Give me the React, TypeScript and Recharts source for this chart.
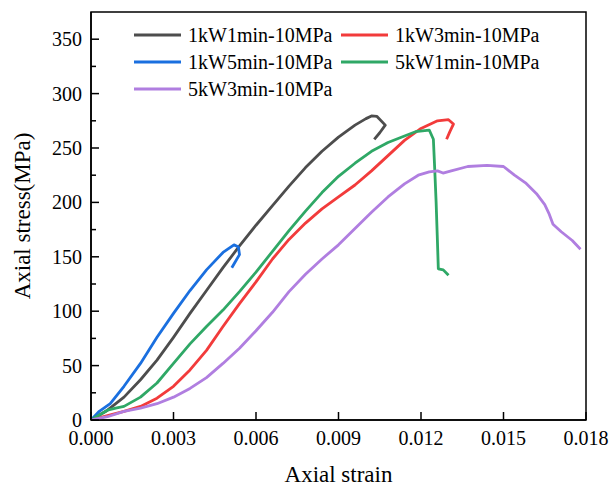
import React from "react"
import { LineChart, Line, XAxis, YAxis, ReferenceArea, Legend } from "recharts"

// 1kW1min-10MPa
const strainA = [0, 0.0006, 0.0012, 0.0018, 0.0024, 0.003, 0.0036, 0.0042, 0.0048, 0.0054, 0.006, 0.0066, 0.0072, 0.0078, 0.0084, 0.009, 0.0096, 0.01, 0.0102, 0.0104, 0.0107, 0.0105, 0.0103]
const stressA = [0, 9, 21, 37, 55, 76, 98, 119, 140, 160, 179, 197, 215, 232, 247, 260, 271, 277, 279.5, 279, 271, 264, 258]

// 1kW3min-10MPa
const strainB = [0, 0.0006, 0.0012, 0.0018, 0.0024, 0.003, 0.0036, 0.0042, 0.0048, 0.0054, 0.006, 0.0066, 0.0072, 0.0078, 0.0084, 0.009, 0.0096, 0.0102, 0.0108, 0.0114, 0.012, 0.0126, 0.013, 0.01318, 0.01305, 0.01293]
const stressB = [0, 4, 8, 12.5, 20, 31, 46, 64, 86, 107, 127, 148, 166, 181, 194, 205, 216, 229, 243, 257, 268, 275, 276, 272, 265, 258]

// 1kW5min-10MPa
const strainC = [0, 0.0003, 0.0007, 0.0012, 0.0018, 0.0024, 0.003, 0.0036, 0.0042, 0.0048, 0.0052, 0.00536, 0.0054, 0.00512]
const stressC = [0, 8, 15, 31, 52, 76, 98, 119, 138, 154, 161, 159, 152, 140]

// 5kW1min-10MPa
const strainD = [0, 0.0006, 0.0009, 0.0012, 0.0018, 0.0024, 0.003, 0.0036, 0.0042, 0.0048, 0.0054, 0.006, 0.0066, 0.0072, 0.0078, 0.0084, 0.009, 0.0096, 0.0102, 0.0108, 0.0114, 0.0118, 0.0123, 0.01245, 0.0125, 0.01255, 0.01259, 0.01263, 0.01281, 0.013]
const stressD = [0, 9, 11, 12.5, 21, 34, 52, 70, 86, 101, 118, 136, 155, 174, 192, 209, 224, 236, 247, 255, 261, 265, 266.5, 258, 230, 200, 170, 139, 138, 133]

// 5kW3min-10MPa
const strainE = [0, 0.0006, 0.0012, 0.0018, 0.0024, 0.003, 0.0036, 0.0042, 0.0048, 0.0054, 0.006, 0.0066, 0.0072, 0.0078, 0.0084, 0.009, 0.0096, 0.0102, 0.0108, 0.0114, 0.0119, 0.0123, 0.0126, 0.0128, 0.0131, 0.0137, 0.0144, 0.015, 0.0154, 0.0158, 0.0162, 0.0165, 0.01665, 0.0168, 0.0171, 0.0175, 0.0178]
const stressE = [0, 3, 8, 11, 15, 21, 29, 39, 52, 66, 82, 99, 118, 134, 148, 161, 176, 191, 205, 217, 225, 228, 229, 227, 229, 233, 234, 233, 225, 218, 208, 198, 190, 180, 173, 165, 157]

const xTicks = [0, 0.0015, 0.003, 0.0045, 0.006, 0.0075, 0.009, 0.0105, 0.012, 0.0135, 0.015, 0.0165, 0.018]
const yTicks = [0, 25, 50, 75, 100, 125, 150, 175, 200, 225, 250, 275, 300, 325, 350]

const FONT = "'Liberation Serif', 'Times New Roman', serif"

const toPoints = (xs: number[], ys: number[]) => xs.map((x, i) => ({ x, y: ys[i] }))

const series = [
  { name: "1kW1min-10MPa", color: "#4d4d4d", data: toPoints(strainA, stressA) },
  { name: "1kW3min-10MPa", color: "#f23b3b", data: toPoints(strainB, stressB) },
  { name: "1kW5min-10MPa", color: "#1a6fdf", data: toPoints(strainC, stressC) },
  { name: "5kW1min-10MPa", color: "#2fa866", data: toPoints(strainD, stressD) },
  { name: "5kW3min-10MPa", color: "#b07ee0", data: toPoints(strainE, stressE) },
]

const XTick = (props: any) => {
  const { x, y, payload } = props
  const major = Math.round(payload.value / 0.0015) % 2 === 0
  return (
    <g>
      <line x1={x} x2={x} y1={y} y2={y - (major ? 8 : 5)} stroke="#000" strokeWidth={1.5} />
      {major && (
        <text x={x} y={y + 25} textAnchor="middle" fontFamily={FONT} fontSize={20} fill="#000">
          {payload.value.toFixed(3)}
        </text>
      )}
    </g>
  )
}

const YTick = (props: any) => {
  const { x, y, payload } = props
  const major = Math.round(payload.value / 25) % 2 === 0
  return (
    <g>
      <line x1={x} x2={x + (major ? 8 : 5)} y1={y} y2={y} stroke="#000" strokeWidth={1.5} />
      {major && (
        <text x={x - 9} y={y} dy="0.35em" textAnchor="end" fontFamily={FONT} fontSize={20} fill="#000">
          {payload.value}
        </text>
      )}
    </g>
  )
}

const renderLegend = () => (
  <div style={{ display: "grid", gridTemplateColumns: "207px 207px", fontFamily: FONT, fontSize: 20 }}>
    {series.map((s) => (
      <div key={s.name} style={{ display: "flex", alignItems: "center", height: 26.7 }}>
        <svg width={47} height={6} style={{ marginRight: 7 }}>
          <line x1={0} x2={47} y1={3} y2={3} stroke={s.color} strokeWidth={3} />
        </svg>
        <span style={{ color: "#000", lineHeight: 1 }}>{s.name}</span>
      </div>
    ))}
  </div>
)

export default function App() {
  return (
    <div style={{ position: "absolute", left: 0, top: 0, background: "#fff" }}>
      <LineChart width={610} height={487} margin={{ top: 12, right: 24, bottom: 0, left: 0 }}>
        <XAxis
          type="number"
          dataKey="x"
          domain={[0, 0.018]}
          ticks={xTicks}
          allowDataOverflow
          height={67}
          tickSize={0}
          tickMargin={0}
          tick={<XTick />}
          axisLine={{ stroke: "#000", strokeWidth: 1.5 }}
          label={{ value: "Axial strain", position: "insideBottom", offset: 5, fontFamily: FONT, fontSize: 23, fill: "#000" }}
        />
        <YAxis
          type="number"
          dataKey="y"
          domain={[0, 375]}
          ticks={yTicks}
          allowDataOverflow
          width={91}
          tickSize={0}
          tickMargin={0}
          tick={<YTick />}
          axisLine={{ stroke: "#000", strokeWidth: 1.5 }}
          label={({ viewBox }: any) => (
            <text
              x={22}
              y={viewBox.y + viewBox.height / 2}
              transform={`rotate(-90, 22, ${viewBox.y + viewBox.height / 2})`}
              textAnchor="middle"
              dominantBaseline="central"
              fontFamily={FONT}
              fontSize={23}
              fill="#000"
            >
              Axial stress(MPa)
            </text>
          )}
        />
        <ReferenceArea x1={0} x2={0.018} y1={0} y2={375} fill="none" stroke="#000" strokeWidth={1.5} />
        {series.map((s) => (
          <Line
            key={s.name}
            data={s.data}
            dataKey="y"
            name={s.name}
            type="linear"
            stroke={s.color}
            strokeWidth={2.8}
            strokeLinejoin="round"
            dot={false}
            isAnimationActive={false}
          />
        ))}
        <Legend
          layout="vertical"
          verticalAlign="middle"
          align="center"
          wrapperStyle={{ left: 134, top: 22, width: 430 }}
          content={renderLegend}
        />
      </LineChart>
    </div>
  )
}
